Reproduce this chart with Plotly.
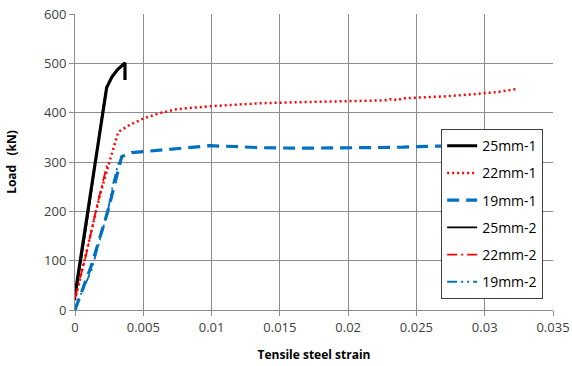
import plotly.graph_objects as go

# 25mm-1
s25_1_x = [0.0, 0.0008, 0.0016, 0.00232, 0.0027, 0.0031, 0.0034, 0.00366, 0.00366]
s25_1_y = [30, 170, 320, 451, 472, 487, 495, 501, 466]
# 22mm-1
s22_1_x = [0.0, 0.0010, 0.0018, 0.00256, 0.00317, 0.0040, 0.0050, 0.0062, 0.00744, 0.00988,
           0.01135, 0.01354, 0.0160, 0.0180, 0.0200, 0.0228, 0.0232, 0.0236, 0.0240, 0.0250,
           0.0270, 0.0290, 0.0310, 0.0323]
s22_1_y = [20, 140, 230, 304, 361, 375, 388, 399, 407, 413,
           416, 419, 421, 422, 423, 425, 428, 425, 429, 430,
           433, 437, 442, 448]
# 19mm-1
s19_1_x = [0.0, 0.0012, 0.0024, 0.00342, 0.00415, 0.0060, 0.0080, 0.00988, 0.0120, 0.01354,
           0.0162, 0.0190, 0.0211, 0.0240, 0.0260, 0.0285]
s19_1_y = [0, 90, 200, 311, 319, 323, 328, 333, 331, 329,
           328, 328, 329, 330, 332, 332]
# 25mm-2
s25_2_x = [0.0, 0.0010, 0.0020, 0.0023]
s25_2_y = [20, 200, 400, 452]
# 22mm-2
s22_2_x = [0.0, 0.0008, 0.0016, 0.0024]
s22_2_y = [25, 110, 210, 300]
# 19mm-2
s19_2_x = [0.0, 0.0012, 0.0024, 0.0028, 0.0032]
s19_2_y = [5, 80, 200, 257, 300]

x_ticks = [0, 0.005, 0.01, 0.015, 0.02, 0.025, 0.03, 0.035]
x_tick_labels = ["0", "0.005", "0.01", "0.015", "0.02", "0.025", "0.03", "0.035"]
y_ticks = [0, 100, 200, 300, 400, 500, 600]

series = [
    ("25mm-1", s25_1_x, s25_1_y, "#000000", 3.2, "solid"),
    ("22mm-1", s22_1_x, s22_1_y, "#FF0000", 2.5, "2px,3px"),
    ("19mm-1", s19_1_x, s19_1_y, "#0070C0", 3.2, "12px,7px"),
    ("25mm-2", s25_2_x, s25_2_y, "#000000", 1.6, "solid"),
    ("22mm-2", s22_2_x, s22_2_y, "#FF0000", 1.8, "10px,4px,2px,4px"),
    ("19mm-2", s19_2_x, s19_2_y, "#0070C0", 1.8, "10px,4px,2px,4px,2px,4px"),
]

fig = go.Figure()
for i, (name, xs, ys, col, w, dash) in enumerate(series):
    fig.add_trace(go.Scatter(x=xs, y=ys, mode="lines", name=name, legendgroup=f"g{i}",
                             line=dict(color=col, width=w, dash=dash)))

font_family = "Open Sans, Liberation Sans, sans-serif"
fig.update_layout(
    width=572, height=366,
    margin=dict(l=75, r=19, t=14, b=56),
    paper_bgcolor="white", plot_bgcolor="white",
    font=dict(family=font_family, size=13, color="#404040"),
    showlegend=True,
    legend=dict(x=0.766, y=0.611, xanchor="left", yanchor="top",
                bgcolor="white", bordercolor="#404040", borderwidth=1,
                font=dict(size=14, color="#000000"), tracegroupgap=6,
                traceorder="grouped", itemwidth=30),
    xaxis=dict(range=[0, 0.035], tickvals=x_ticks, ticktext=x_tick_labels,
               showgrid=True, gridcolor="#8c8c8c", gridwidth=1,
               showline=True, linecolor="#8c8c8c", mirror=False,
               ticks="outside", ticklen=5, tickcolor="#8c8c8c",
               zeroline=False, fixedrange=True, automargin=False,
               ticklabeloverflow="allow",
               title=dict(text="<b>Tensile steel strain</b>", font=dict(size=12, color="#000000"), standoff=16)),
    yaxis=dict(range=[0, 600], tickvals=y_ticks,
               showgrid=True, gridcolor="#8c8c8c", gridwidth=1,
               showline=True, linecolor="#8c8c8c",
               ticks="outside", ticklen=5, tickcolor="#8c8c8c",
               zeroline=False, fixedrange=True, automargin=False,
               ticklabeloverflow="allow",
               title=dict(text="<b>Load   (kN)</b>", font=dict(size=12, color="#000000"), standoff=24)),
)

fig.write_html("out.html", config={"displayModeBar": False},
               post_script="document.body.style.margin='0';document.body.style.overflow='hidden';")
